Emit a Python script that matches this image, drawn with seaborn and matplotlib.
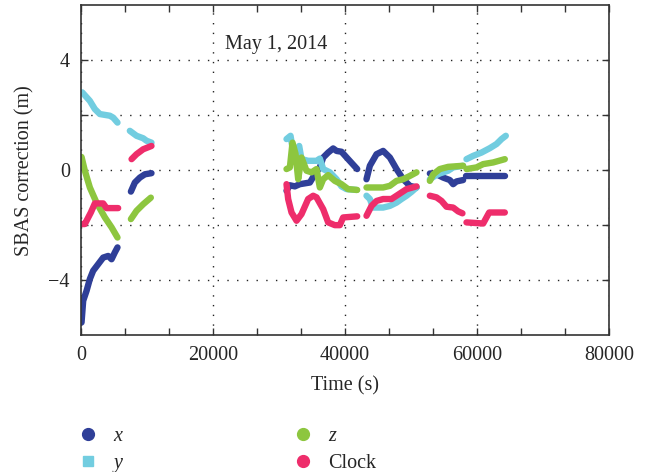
import pandas as pd
import seaborn as sns
from matplotlib import pyplot as plt
from matplotlib import ticker
from matplotlib.lines import Line2D

# SBAS corrections (time in s, correction in m), one list per data gap segment
X_TIME = [[100, 350, 860, 1360, 1860, 2620, 3380, 4140, 4650, 5150, 5550],
          [7580, 8180, 8940, 9700, 10700],
          [31160, 31670, 32420, 33180, 34700, 35450, 36210, 36720, 37470, 38230, 38740, 39490, 40500, 41870],
          [43280, 43790, 44800, 45800, 46820, 47830, 48840, 49850, 50860],
          [52880, 53890, 54900, 55910, 56410, 56920, 57920],
          [58430, 64240]]
X_VALUE = [[-5.54, -4.75, -4.39, -3.96, -3.66, -3.42, -3.18, -3.12, -3.24, -2.99, -2.81],
           [-0.78, -0.45, -0.27, -0.15, -0.11],
           [-0.75, -0.55, -0.59, -0.51, -0.45, -0.15, 0.1, 0.46, 0.64, 0.79, 0.7, 0.67, 0.4, 0.04],
           [-0.33, 0.16, 0.58, 0.7, 0.46, 0.04, -0.33, -0.57, -0.63],
           [-0.12, -0.15, -0.27, -0.36, -0.51, -0.41, -0.36],
           [-0.23, -0.23]]

Y_TIME = [[200, 1360, 2120, 2880, 4390, 4900, 5550],
          [7420, 8430, 9440, 9950, 10700],
          [31160, 31770, 32270, 33080, 33430, 34440, 35710, 36210, 36720, 37730, 38740, 39490, 40250, 41770],
          [43280, 43790, 44290, 45800, 46820, 47830, 48590, 49350, 50100, 50860],
          [52880, 53640, 54390, 55650, 56410, 57920],
          [58430, 59440, 60710, 61970, 62980, 63740, 64390]]
Y_VALUE = [[2.83, 2.52, 2.22, 2.04, 1.98, 1.91, 1.73],
           [1.43, 1.25, 1.16, 1.07, 1.0],
           [1.13, 1.25, 0.52, 0.88, 0.4, 0.34, 0.34, 0.42, 0.04, -0.08, -0.33, -0.59, -0.69, -0.72],
           [-0.93, -1.05, -1.36, -1.36, -1.3, -1.18, -1.05, -0.93, -0.79, -0.63],
           [-0.33, -0.21, -0.12, -0.02, 0.1, 0.16],
           [0.4, 0.52, 0.64, 0.8, 0.95, 1.13, 1.25]]

Z_TIME = [[100, 600, 1360, 2370, 3640, 4650, 5550],
          [7580, 8430, 9440, 10600],
          [31160, 31670, 32070, 32520, 32930, 33430, 34190, 34950, 35710, 36210, 36720, 37470, 38480, 39490, 40500, 41870],
          [43280, 45800, 46820, 47830, 48840, 49850, 50860],
          [52880, 53400, 54390, 55650, 57920],
          [58430, 59940, 60960, 62470, 64240]]
Z_VALUE = [[0.48, -0.02, -0.63, -1.18, -1.72, -2.08, -2.45],
           [-1.78, -1.48, -1.24, -1.0],
           [0.04, 0.1, 1.0, 0.6, -0.33, 0.46, -0.02, -0.08, 0.04, -0.63, -0.33, -0.18, -0.39, -0.51, -0.69, -0.72],
           [-0.63, -0.63, -0.57, -0.39, -0.33, -0.21, -0.08],
           [-0.39, -0.15, 0.04, 0.12, 0.16],
           [0.04, 0.1, 0.22, 0.28, 0.4]]

CLOCK_TIME = [[100, 600, 1510, 2120, 3380, 3880, 5650],
              [7680, 8430, 9440, 10700],
              [31160, 31410, 31920, 32680, 33430, 34440, 35200, 35710, 36720, 37470, 38480, 39240, 39740, 41870],
              [43280, 44040, 44800, 45800, 47070, 47830, 48590, 49350, 50860],
              [52880, 53890, 54650, 55400, 56410, 57170, 57820],
              [58430, 60960, 61870, 64240]]
CLOCK_VALUE = [[-1.96, -1.96, -1.54, -1.21, -1.21, -1.38, -1.38],
               [0.4, 0.58, 0.76, 0.88],
               [-0.51, -1.05, -1.54, -1.84, -1.6, -1.05, -0.93, -0.99, -1.42, -1.9, -2.0, -2.0, -1.72, -1.68],
               [-1.66, -1.3, -1.12, -1.05, -1.05, -0.93, -0.81, -0.69, -0.59],
               [-0.93, -0.99, -1.12, -1.33, -1.36, -1.5, -1.57],
               [-1.9, -1.94, -1.54, -1.54]]

SERIES = ["x", "y", "z", "Clock"]
COLORS = {"x": "#2f3f98", "y": "#72cde0", "z": "#8dc63f", "Clock": "#ee2d6b"}
MARKERS = {"x": "o", "y": "s", "z": "o", "Clock": "o"}


def _build_frame():
    rows = []
    sources = {"x": (X_TIME, X_VALUE), "y": (Y_TIME, Y_VALUE),
               "z": (Z_TIME, Z_VALUE), "Clock": (CLOCK_TIME, CLOCK_VALUE)}
    for name in SERIES:
        times, values = sources[name]
        for idx, (ts, vs) in enumerate(zip(times, values)):
            for t, v in zip(ts, vs):
                rows.append({"series": name, "segment": "{}_{}".format(name, idx),
                             "time": t, "value": v})
    return pd.DataFrame(rows)


sns.set_style("ticks")
plt.rcParams["font.family"] = ["Liberation Serif", "DejaVu Serif"]

df = _build_frame()

fig = plt.figure(figsize=(6.47, 4.72), dpi=100)
ax = fig.add_axes([0.125, 0.290, 0.816, 0.699])

sns.lineplot(data=df, x="time", y="value", hue="series", hue_order=SERIES,
             units="segment", estimator=None, sort=False, palette=COLORS,
             linewidth=4.6, solid_capstyle="round", solid_joinstyle="round",
             legend=False, ax=ax)

ax.set_xlim(0, 80000)
ax.set_ylim(-6, 6)
ax.xaxis.set_major_locator(ticker.MultipleLocator(20000))
ax.xaxis.set_minor_locator(ticker.MultipleLocator(20000 / 3))
ax.yaxis.set_major_locator(ticker.FixedLocator([-4, 0, 4]))
ax.yaxis.set_minor_locator(ticker.FixedLocator([-2, 2]))

ax.tick_params(which="both", direction="in", top=True, right=True,
               length=5, width=1.0, color="#333333", labelsize=14.5, pad=8)
ax.grid(which="major", axis="both", linestyle=(0, (1, 6)), color="#222222", linewidth=1.0)
ax.grid(which="minor", axis="y", linestyle=(0, (1, 6)), color="#222222", linewidth=1.0)
for spine in ax.spines.values():
    spine.set_visible(True)
    spine.set_color("#333333")
    spine.set_linewidth(1.2)

ax.set_xlabel("Time (s)", fontsize=14.5, labelpad=8)
ax.set_ylabel("SBAS correction (m)", fontsize=14.5, labelpad=10)
ax.text(0.273, 0.882, "May 1, 2014", transform=ax.transAxes, fontsize=14.5,
        ha="left", va="center")

handles = [Line2D([], [], linestyle="", marker=MARKERS[s], color=COLORS[s],
                  markersize=8.5 if MARKERS[s] == "o" else 7) for s in SERIES]
leg = fig.legend(handles, SERIES, ncol=2, loc="upper left",
                 bbox_to_anchor=(78 / 647, 1 - 427 / 472), frameon=False,
                 fontsize=14.5, handlelength=1.0, handletextpad=0.75,
                 columnspacing=8.5, labelspacing=0.4, borderaxespad=0, borderpad=0)
for text in leg.get_texts()[:3]:
    text.set_style("italic")

fig.savefig("out.png", dpi=100)
